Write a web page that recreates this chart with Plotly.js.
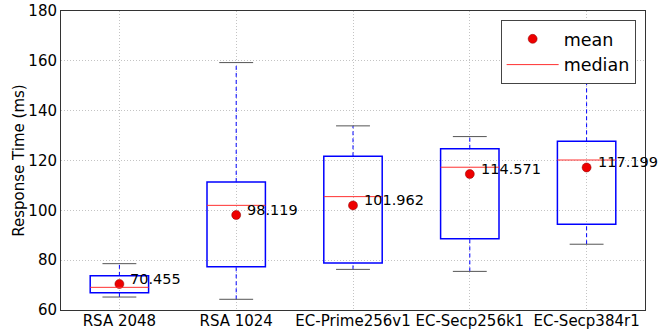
<!DOCTYPE html>
<html>
<head>
<meta charset="utf-8">
<script src="https://cdn.plot.ly/plotly-3.0.1.min.js"></script>
<style>html,body{margin:0;padding:0;background:#fff;}#chart{width:668px;height:331px;}</style>
</head>
<body>
<div id="chart"></div>
<script>
const categories = ["RSA 2048", "RSA 1024", "EC-Prime256v1", "EC-Secp256k1", "EC-Secp384r1"];
const lowerWhisker = [65.2, 64.3, 76.3, 75.5, 86.4];
const q1Values = [66.9, 77.4, 78.9, 88.6, 94.4];
const medianValues = [69.1, 102.0, 105.5, 117.3, 120.2];
const q3Values = [73.7, 111.4, 121.7, 124.7, 127.7];
const upperWhisker = [78.6, 159.3, 133.9, 129.6, 165.0];
const meanValues = [70.455, 98.119, 101.962, 114.571, 117.199];
const meanLabels = ["70.455", "98.119", "101.962", "114.571", "117.199"];

const idx = categories.map((_, i) => i);
const boxHalf = 0.25, capHalf = 0.145;
const shapes = [];
idx.forEach(i => {
  shapes.push({type:'line', xref:'x', yref:'y', x0:i, x1:i, y0:q3Values[i], y1:upperWhisker[i], line:{color:'#0000ff', width:1, dash:'4px,3px'}});
  shapes.push({type:'line', xref:'x', yref:'y', x0:i, x1:i, y0:lowerWhisker[i], y1:q1Values[i], line:{color:'#0000ff', width:1, dash:'4px,3px'}});
  shapes.push({type:'line', xref:'x', yref:'y', x0:i-capHalf, x1:i+capHalf, y0:upperWhisker[i], y1:upperWhisker[i], line:{color:'#555', width:1}});
  shapes.push({type:'line', xref:'x', yref:'y', x0:i-capHalf, x1:i+capHalf, y0:lowerWhisker[i], y1:lowerWhisker[i], line:{color:'#555', width:1}});
  shapes.push({type:'rect', xref:'x', yref:'y', x0:i-boxHalf, x1:i+boxHalf, y0:q1Values[i], y1:q3Values[i], line:{color:'#0000ff', width:1.5}, fillcolor:'rgba(0,0,0,0)'});
  shapes.push({type:'line', xref:'x', yref:'y', x0:i-boxHalf, x1:i+boxHalf, y0:medianValues[i], y1:medianValues[i], line:{color:'#ff3030', width:1}});
});

const annotations = idx.map(i => ({
  x: i, y: meanValues[i], xref:'x', yref:'y', text: meanLabels[i], showarrow:false,
  xanchor:'left', yanchor:'middle', xshift:9, yshift:5,
  font:{family:'DejaVu Sans', size:14.5, color:'#000'}
}));

const traces = [
  {x: idx, y: meanValues, type:'scatter', mode:'markers', name:'mean',
   marker:{color:'#ee0000', size:9, line:{color:'#880000', width:0.5}}, cliponaxis:false},
  {x: [null], y: [null], type:'scatter', mode:'lines', name:'median',
   line:{color:'#ff3030', width:1}}
];

const tickFont = {family:'DejaVu Sans', size:15, color:'#000'};
const layout = {
  width:668, height:331,
  margin:{l:61, r:23, t:11, b:21},
  paper_bgcolor:'#fff', plot_bgcolor:'#fff',
  font:{family:'DejaVu Sans', size:15, color:'#000'},
  showlegend:true,
  legend:{x:0.984, y:0.97, xanchor:'right', yanchor:'top', bgcolor:'#fff', bordercolor:'#444', borderwidth:1,
          font:{family:'DejaVu Sans', size:17.5, color:'#000'}, tracegroupgap:0, itemwidth:52},
  xaxis:{range:[-0.5, 4.5], tickvals:idx, ticktext:categories, showgrid:true, gridcolor:'#c4c4c4', griddash:'1px,2px', gridwidth:1,
         showline:true, linecolor:'#333', linewidth:1, mirror:true, ticks:'', zeroline:false, tickfont:tickFont,
         ticklabelstandoff:-3},
  yaxis:{range:[60, 180], dtick:20, showgrid:true, gridcolor:'#c4c4c4', griddash:'1px,2px', gridwidth:1,
         showline:true, linecolor:'#333', linewidth:1, mirror:true, ticks:'', zeroline:false, tickfont:tickFont,
         title:{text:'Response Time (ms)', font:{family:'DejaVu Sans', size:15, color:'#000'}, standoff:0}},
  shapes: shapes,
  annotations: annotations
};

Plotly.newPlot('chart', traces, layout, {displayModeBar:false, staticPlot:true});
</script>
</body>
</html>
